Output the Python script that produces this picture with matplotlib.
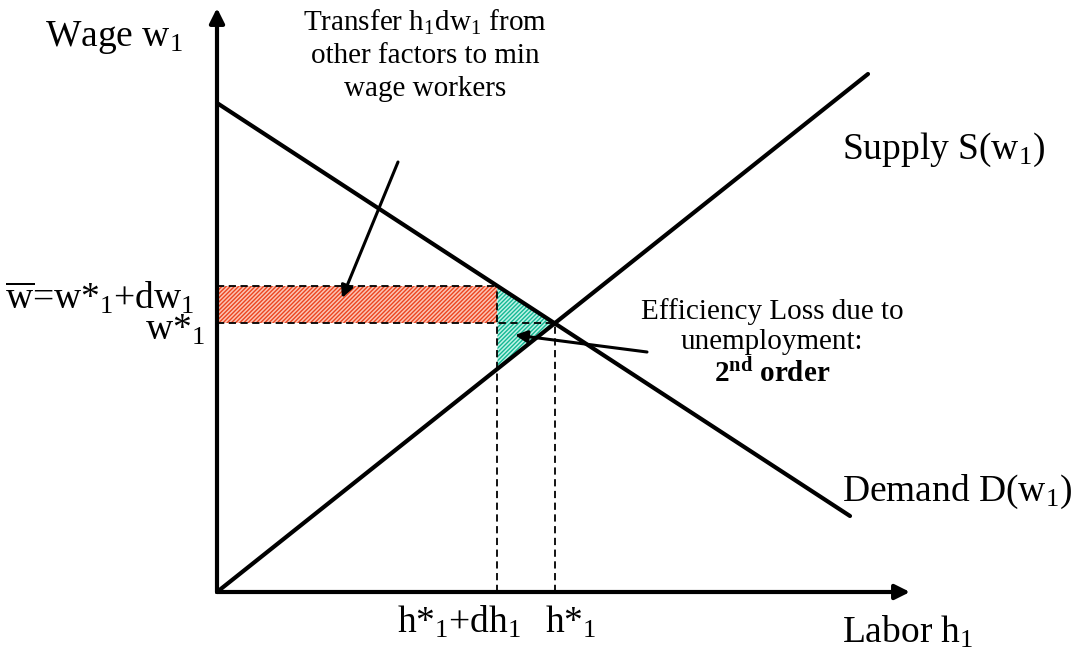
import matplotlib
matplotlib.use("Agg")
import matplotlib.pyplot as plt
import numpy as np

plt.rcParams['font.family'] = ['Liberation Serif', 'DejaVu Serif']
plt.rcParams['mathtext.fontset'] = 'custom'
plt.rcParams['mathtext.rm'] = 'Liberation Serif'
plt.rcParams['mathtext.it'] = 'Liberation Serif:italic'
plt.rcParams['mathtext.bf'] = 'Liberation Serif:bold'
plt.rcParams['hatch.linewidth'] = 1.0

# demand and supply lines (labor h1, wage w1)
demand_h = [0, 633]
demand_w = [489, 76]
supply_h = [0, 651]
supply_w = [0, 518]
w_bar = 306  # minimum wage

# axis extents
x_max = 693
y_max = 584

d_slope = (demand_w[1] - demand_w[0]) / (demand_h[1] - demand_h[0])
s_slope = (supply_w[1] - supply_w[0]) / (supply_h[1] - supply_h[0])
h_star = demand_w[0] / (s_slope - d_slope)
w_star = s_slope * h_star
h_min = (w_bar - demand_w[0]) / d_slope
w_supply_min = s_slope * h_min

fig = plt.figure(figsize=(10.81, 6.64), dpi=100)
ax = fig.add_axes([0, 0, 1, 1])
ax.set_xlim(-217, 864)
ax.set_ylim(-72, 592)
ax.axis('off')

# shaded areas
ax.fill([0, h_min, h_min, 0], [w_star, w_star, w_bar, w_bar],
        facecolor='#fbc4b4', edgecolor='#ec4520', hatch='////////', lw=0, zorder=1)
ax.fill([h_min, h_star, h_min], [w_bar, w_star, w_supply_min],
        facecolor='#bff3e6', edgecolor='#14b894', hatch='////////', lw=0, zorder=1)

# dashed guides
dash = dict(color='black', lw=1.3, ls=(0, (4, 2.5)), zorder=2)
ax.plot([0, h_min], [w_bar, w_bar], **dash)
ax.plot([0, h_star], [w_star, w_star], **dash)
ax.plot([h_min, h_min], [0, w_bar], **dash)
ax.plot([h_star, h_star], [0, w_star], **dash)

# demand and supply
ax.plot(demand_h, demand_w, color='black', lw=3, solid_capstyle='round', zorder=3)
ax.plot(supply_h, supply_w, color='black', lw=3, solid_capstyle='round', zorder=3)

# axes with arrows
ax.annotate('', xy=(x_max, 0), xytext=(0, 0),
            arrowprops=dict(arrowstyle='-|>', color='black', lw=3,
                            mutation_scale=22, shrinkA=0, shrinkB=0), zorder=4)
ax.annotate('', xy=(0, y_max), xytext=(0, 0),
            arrowprops=dict(arrowstyle='-|>', color='black', lw=3,
                            mutation_scale=22, shrinkA=0, shrinkB=0), zorder=4)

# pointer arrows
ax.annotate('', xy=(125, 294), xytext=(181, 430),
            arrowprops=dict(arrowstyle='-|>', color='black', lw=2.2,
                            mutation_scale=18, shrinkA=0, shrinkB=0), zorder=5)
ax.annotate('', xy=(298, 257), xytext=(430, 240),
            arrowprops=dict(arrowstyle='-|>', color='black', lw=2.2,
                            mutation_scale=18, shrinkA=0, shrinkB=0), zorder=5)

big = 27
small = 21

ax.text(-172, 554, r'Wage w$_1$', fontsize=big, ha='left', va='center')
ax.text(-212, 294, r'$\overline{\mathrm{w}}$=w*$_1$+dw$_1$', fontsize=big, ha='left', va='center')
ax.text(-12, 262, r'w*$_1$', fontsize=big, ha='right', va='center')
ax.text(625, 442, r'Supply S(w$_1$)', fontsize=big, ha='left', va='center')
ax.text(625, 100, r'Demand D(w$_1$)', fontsize=big, ha='left', va='center')
ax.text(242, -30, r'h*$_1$+dh$_1$', fontsize=big, ha='center', va='center')
ax.text(328, -30, r'h*$_1$', fontsize=big, ha='left', va='center')
ax.text(625, -40, r'Labor h$_1$', fontsize=big, ha='left', va='center')

ax.text(208, 570, r'Transfer h$_1$dw$_1$ from', fontsize=small, ha='center', va='center')
ax.text(208, 536, 'other factors to min', fontsize=small, ha='center', va='center')
ax.text(208, 503, 'wage workers', fontsize=small, ha='center', va='center')

ax.text(555, 280, 'Efficiency Loss due to', fontsize=small, ha='center', va='center')
ax.text(555, 250, 'unemployment:', fontsize=small, ha='center', va='center')
ax.text(555, 218, r'$\mathbf{2^{nd}}$ order', fontsize=small, ha='center', va='center',
        fontweight='bold')

fig.savefig('out.png', dpi=100)
